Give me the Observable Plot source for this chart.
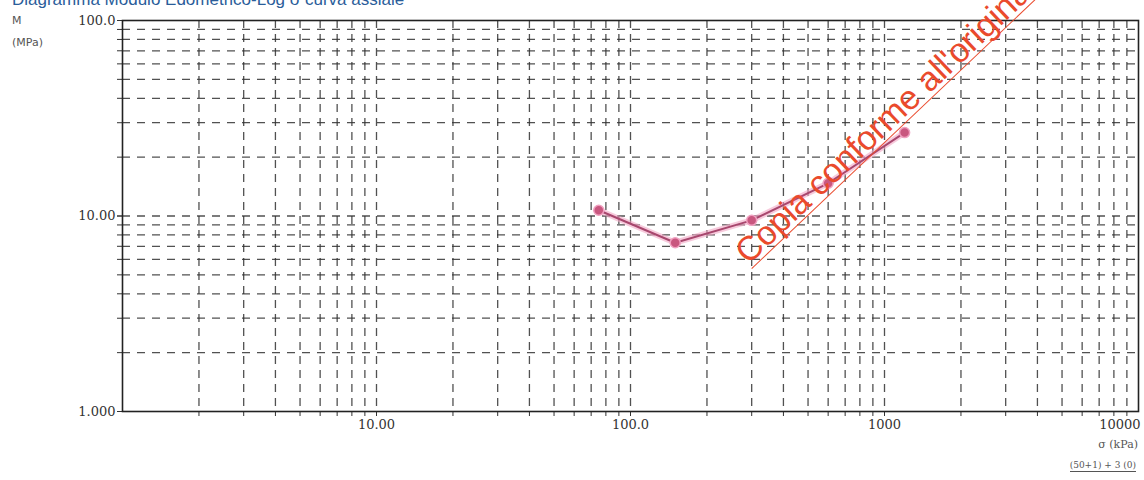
<!DOCTYPE html>
<html>
<head>
<meta charset="utf-8">
<script src="https://cdn.jsdelivr.net/npm/d3@7"></script>
<script src="https://cdn.jsdelivr.net/npm/@observablehq/plot@0.6"></script>
<style>
  html, body { margin: 0; padding: 0; background: #fff; overflow: hidden; }
  #wrap { position: relative; width: 1144px; height: 480px; overflow: hidden; }
  #chart { position: absolute; left: 0; top: 0; }
  #title { position: absolute; left: 12px; top: -10px; font: 17px "Liberation Sans", Arial, sans-serif; color: #2a5d9a; white-space: nowrap; }
  #ylab { position: absolute; left: 12px; top: 10px; font: 11px "DejaVu Sans", sans-serif; color: #555; line-height: 22px; }
  #xlab { position: absolute; right: 6px; top: 438px; font: 11px "DejaVu Serif", serif; color: #555; }
  #note { position: absolute; right: 8px; top: 460px; font: 9px "DejaVu Serif", serif; color: #555; border-bottom: 1px solid #555; padding-bottom: 1px; }
  #wm { position: absolute; left: 752px; top: 236px; font: 34px "Liberation Sans", Arial, sans-serif; color: #ea4a2c; white-space: nowrap; transform-origin: 0 100%; transform: rotate(-43.5deg); border-bottom: 1.5px solid #ea4a2c; line-height: 32px; }
</style>
</head>
<body>
<div id="wrap">
  <div id="chart"></div>
  <div id="title">Diagramma Modulo Edometrico-Log σ curva assiale</div>
  <div id="ylab">M<br>(MPa)</div>
  <div id="xlab">σ (kPa)</div>
  <div id="note">(50+1) + 3 (0)</div>
  <div id="wm">Copia conforme all'originale</div>
</div>
<script>
// Data
const sigma = [75, 150, 300, 600, 1200];          // kPa
const modulus = [10.7, 7.3, 9.5, 14.7, 26.7];      // MPa

// Axis tick values and labels
const xTicks = [10, 100, 1000];
const xTickLabels = ["10.00", "100.0", "1000"];
const xLastTick = [10000];
const xLastLabel = "10000";
const yTicks = [1, 10, 100];
const yTickLabels = ["1.000", "10.00", "100.0"];

// Log grid values
const xGrid = [2,3,4,5,6,7,8,9,10,20,30,40,50,60,70,80,90,100,200,300,400,500,600,700,800,900,1000,2000,3000,4000,5000,6000,7000,8000,9000];
const yGrid = [2,3,4,5,6,7,8,9,10,20,30,40,50,60,70,80,90];

const data = sigma.map((s, i) => ({sigma: s, M: modulus[i]}));

const chart = Plot.plot({
  width: 1144,
  height: 480,
  marginLeft: 122,
  marginRight: 6,
  marginTop: 20,
  marginBottom: 69,
  style: {background: "transparent", fontFamily: "'DejaVu Serif', serif"},
  x: {type: "log", domain: [1, 10000]},
  y: {type: "log", domain: [1, 100]},
  marks: [
    Plot.ruleX(xGrid, {stroke: "#333", strokeWidth: 1.3, strokeDasharray: "8,6", strokeOpacity: 0.85}),
    Plot.ruleY(yGrid, {stroke: "#333", strokeWidth: 1.3, strokeDasharray: "8,7", strokeOpacity: 0.85}),
    Plot.axisX(xGrid, {tickFormat: () => "", tickSize: 5, stroke: "#333", label: null}),
    Plot.axisY(yGrid, {tickFormat: () => "", tickSize: 5, stroke: "#333", label: null}),
    Plot.axisX(xTicks, {
      tickFormat: (d) => xTickLabels[xTicks.indexOf(d)],
      tickSize: 0, tickPadding: 8, fontSize: 13, fill: "#333", label: null
    }),
    Plot.axisX(xLastTick, {
      tickFormat: () => xLastLabel, textAnchor: "end", dx: 2,
      tickSize: 0, tickPadding: 8, fontSize: 13, fill: "#333", label: null
    }),
    Plot.axisY(yTicks, {
      tickFormat: (d) => yTickLabels[yTicks.indexOf(d)],
      tickSize: 5, tickPadding: 2, fontSize: 13, fill: "#333", stroke: "#333", label: null
    }),
    Plot.frame({stroke: "#222", strokeWidth: 1.6}),
    Plot.line(data, {x: "sigma", y: "M", stroke: "#f2a6c4", strokeWidth: 6, strokeOpacity: 0.6}),
    Plot.line(data, {x: "sigma", y: "M", stroke: "#a8476e", strokeWidth: 2}),
    Plot.dot(data, {x: "sigma", y: "M", r: 5, fill: "#c9577f", stroke: "#f0a0c0", strokeWidth: 1.5})
  ]
});
document.getElementById("chart").appendChild(chart);
</script>
</body>
</html>
